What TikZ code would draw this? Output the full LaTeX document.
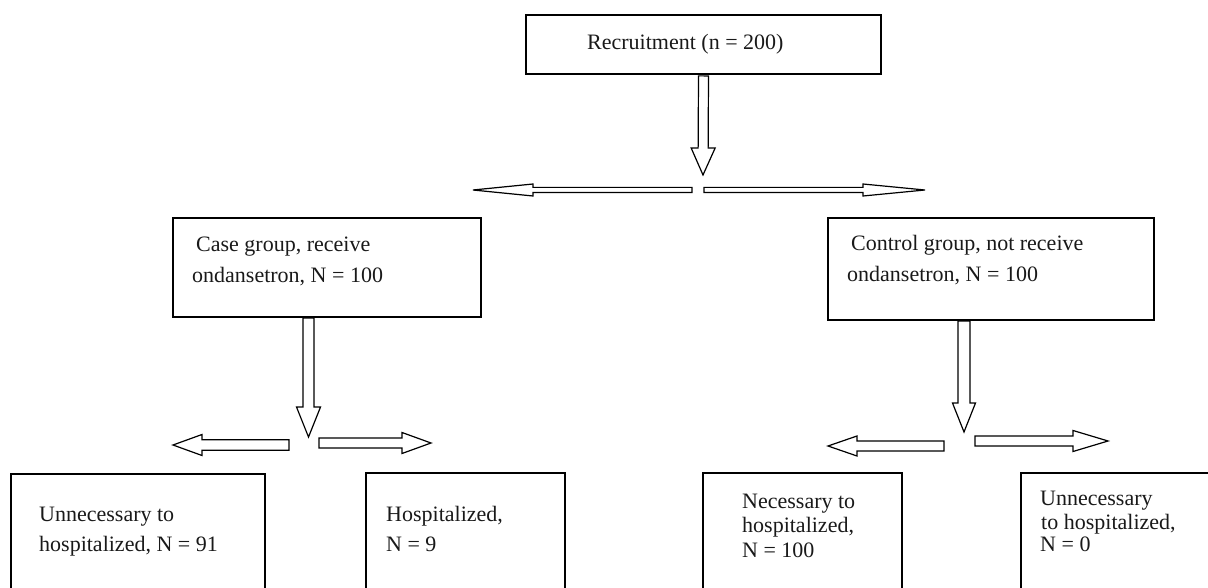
\documentclass[tikz,border=0pt]{standalone}
\usepackage{fontspec}
\setmainfont{Liberation Serif}
\usetikzlibrary{calc}
\tikzset{
  box/.style={draw=black, line width=1.8pt, inner sep=0pt, fill=none},
  txt/.style={anchor=base west, inner sep=0pt, font=\fontsize{22}{26}\selectfont, text=black!90},
  barrow/.style={draw=black, line width=1.2pt, line join=miter, fill=white}
}
% #1 start, #2 tip, #3 half shaft width, #4 half head width, #5 head length, #6 name of head base
\newcommand\blockarrow[6]{%
  \coordinate (#6) at ($(#2)!#5!(#1)$);
  \draw[barrow] ($(#1)!#3!90:(#2)$) -- ($(#6)!#3!-90:(#1)$) -- ($(#6)!#4!-90:(#1)$) -- (#2)
    -- ($(#6)!#4!90:(#1)$) -- ($(#6)!#3!90:(#1)$) -- ($(#1)!#3!-90:(#2)$) -- cycle;
}
\begin{document}
\begin{tikzpicture}[x=1pt,y=-1pt]
\useasboundingbox (0,0) rectangle (1208,588);
\clip (0,0) rectangle (1208,588);

% boxes
\node[box, minimum width=355pt, minimum height=59pt] (rec) at (703.5,44.5) {};
\node[box, minimum width=308pt, minimum height=99pt] (case) at (327,267.5) {};
\node[box, minimum width=326pt, minimum height=102pt] (ctrl) at (991,269) {};
\node[box, minimum width=254pt, minimum height=140pt] (b1) at (138,544) {};
\node[box, minimum width=199pt, minimum height=140pt] (b2) at (465.5,543) {};
\node[box, minimum width=199pt, minimum height=140pt] (b3) at (802.5,543) {};
\node[box, minimum width=200pt, minimum height=140pt] (b4) at (1121,543) {};

% texts
\node[txt] (t0) at (587,50) {Recruitment (n = 200)};
\node[txt] (t1a) at (196,252) {Case group, receive};
\node[txt] (t1b) at (192,283) {ondansetron, N = 100};
\node[txt] (t2a) at (851,251) {Control group, not receive};
\node[txt] (t2b) at (847,282) {ondansetron, N = 100};
\node[txt] (t3a) at (39,521) {Unnecessary to};
\node[txt] (t3b) at (39,551) {hospitalized, N = 91};
\node[txt] (t4a) at (386,521) {Hospitalized,};
\node[txt] (t4b) at (386,551) {N = 9};
\node[txt] (t5a) at (742,508) {Necessary to};
\node[txt] (t5b) at (742,532) {hospitalized,};
\node[txt] (t5c) at (742,557) {N = 100};
\node[txt] (t6a) at (1040,505) {Unnecessary};
\node[txt] (t6b) at (1041,529) {to hospitalized,};
\node[txt] (t6c) at (1040,551) {N = 0};

% arrow end points
\coordinate (a0s) at ($(rec.south)+(0,1)$);
\coordinate (a0t) at (703,175);
\coordinate (aLs) at (692,190);
\coordinate (aLt) at (473,190);
\coordinate (aRs) at (704,190);
\coordinate (aRt) at (925,190);

\coordinate (c0s) at (308.5,318);
\coordinate (c0t) at (308.5,437);
\coordinate (cLs) at (289,445);
\coordinate (cLt) at (173,445);
\coordinate (cRs) at (319,443);
\coordinate (cRt) at (431,443);

\coordinate (k0s) at (964,321);
\coordinate (k0t) at (964,432);
\coordinate (kLs) at (944,446);
\coordinate (kLt) at (828,446);
\coordinate (kRs) at (975,441);
\coordinate (kRt) at (1108,441);

% arrows
\blockarrow{a0s}{a0t}{5pt}{12pt}{27pt}{a0b}
\blockarrow{aLs}{aLt}{2.6pt}{6pt}{60pt}{aLb}
\blockarrow{aRs}{aRt}{2.6pt}{6pt}{62pt}{aRb}

\blockarrow{c0s}{c0t}{5.5pt}{12pt}{30pt}{c0b}
\blockarrow{cLs}{cLt}{5.2pt}{10.5pt}{29pt}{cLb}
\blockarrow{cRs}{cRt}{5pt}{10.5pt}{29pt}{cRb}

\blockarrow{k0s}{k0t}{6pt}{11.5pt}{29pt}{k0b}
\blockarrow{kLs}{kLt}{5pt}{10pt}{29pt}{kLb}
\blockarrow{kRs}{kRt}{5pt}{10.5pt}{35pt}{kRb}
\end{tikzpicture}
\end{document}
